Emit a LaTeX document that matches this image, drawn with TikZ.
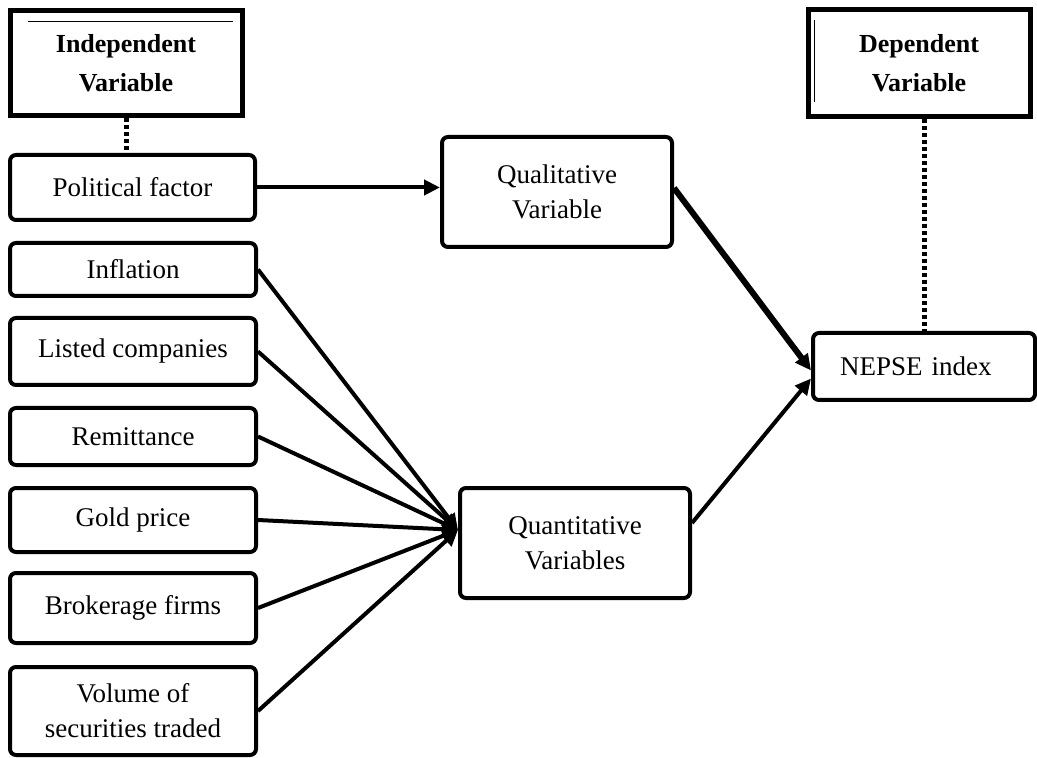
\documentclass[tikz,border=0pt]{standalone}
\usepackage{fontspec}
\setmainfont{Liberation Serif}
\usetikzlibrary{arrows.meta}
\tikzset{headbox/.style={draw, line width=2.5pt, align=center,
      font=\bfseries\fontsize{13}{19.5}\selectfont},
    factor/.style={draw, line width=2pt, rounded corners=3pt, align=center,
      font=\fontsize{13.5}{17.5}\selectfont},
    link/.style={line width=2pt, -{Triangle[length=8pt, width=7.5pt]}},
    tie/.style={line width=2.5pt, dash pattern=on 2pt off 1.5pt}}

\begin{document}
\begin{tikzpicture}[x=0.5pt, y=-0.5pt]
    \useasboundingbox (0,0) rectangle (1037,758);
    \node[headbox, minimum width=116pt, minimum height=52.5pt] (indep) at (126,63.5) {Independent\\Variable};
    \node[headbox, minimum width=111pt, minimum height=53.5pt] (dep) at (919,63.5) {Dependent\\Variable};
    \draw[line width=0.8pt] ([xshift=10pt,yshift=-6.5pt]indep.north west) -- ([xshift=-6pt,yshift=-6.5pt]indep.north east);
    \draw[line width=0.8pt] ([xshift=4.5pt,yshift=-6.5pt]dep.north west) -- ([xshift=4.5pt,yshift=8.5pt]dep.south west);

    \node[factor, minimum width=122.5pt, minimum height=32.5pt] (political) at (132.5,187.5) {Political factor};
    \node[factor, minimum width=123pt, minimum height=26.5pt] (inflation) at (133,269.5) {Inflation};
    \node[factor, minimum width=123pt, minimum height=33.5pt] (listed) at (133,351.5) {Listed companies};
    \node[factor, minimum width=123pt, minimum height=28.5pt] (remit) at (133,436.5) {Remittance};
    \node[factor, minimum width=123pt, minimum height=32pt] (gold) at (133,520) {Gold price};
    \node[factor, minimum width=123pt, minimum height=35pt] (broker) at (133,608) {Brokerage firms};
    \node[factor, minimum width=123pt, minimum height=44pt] (volume) at (133,711) {Volume of\\securities traded};
    \node[factor, minimum width=115pt, minimum height=55pt] (qual) at (557,192) {Qualitative\\Variable};
    \node[factor, minimum width=115pt, minimum height=55pt] (quant) at (575,543) {Quantitative\\Variables};
    \node[factor, minimum width=111pt, minimum height=33.5pt, text width=84pt, inner xsep=13.5pt, align=left] (nepse) at (924,366.5) {NEPSE index};

    \draw[tie] (indep.south) -- (indep.south |- political.north);
    \draw[tie] (dep.south -| nepse.north) -- (nepse.north);

    \draw[link] (political.east) -- (political.east -| qual.west);
    \draw[link, line width=3pt] ([yshift=2pt]qual.east) -- ([yshift=-2pt]nepse.west);
    \draw[link] ([yshift=10pt]quant.east) -- ([yshift=-6pt]nepse.west);
    \foreach \src in {inflation, listed, remit, gold, broker, volume}
      \draw[link] (\src.east) -- ([yshift=6.5pt]quant.west);
\end{tikzpicture}
\end{document}
